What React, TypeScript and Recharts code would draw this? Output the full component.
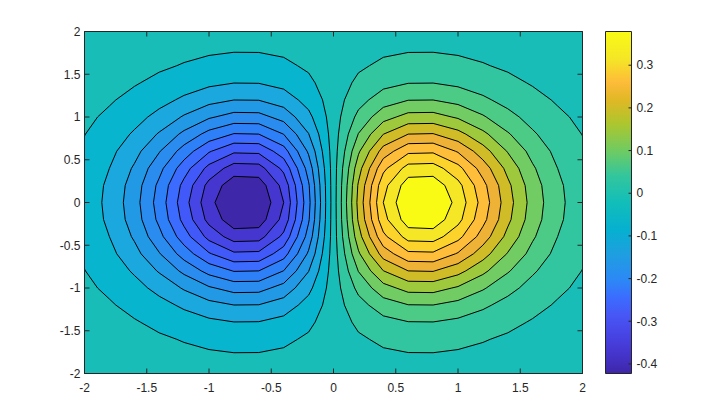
import { Scatter, ScatterChart, XAxis, YAxis } from "recharts";

type Pair = [number, number];

// contour rings: [distance from x=0, height above y=0], upper half only
const ring1: Pair[] = [[0.021, 0], [0.022, 0.2], [0.024, 0.4], [0.03, 0.6], [0.04, 0.8], [0.057, 1], [0.088, 1.2], [0.148, 1.4], [0.2, 1.516], [0.289, 1.6], [0.4, 1.698], [0.6, 1.755], [0.8, 1.757], [1, 1.72], [1.2, 1.637], [1.259, 1.6], [1.4, 1.524], [1.55, 1.4], [1.6, 1.357], [1.748, 1.2], [1.8, 1.129], [1.895, 1], [1.992, 0.8], [2, 0.778]];
const ring2: Pair[] = [[0.063, 0], [0.065, 0.2], [0.073, 0.4], [0.09, 0.6], [0.119, 0.8], [0.17, 1], [0.2, 1.084], [0.283, 1.2], [0.4, 1.326], [0.6, 1.394], [0.8, 1.397], [1, 1.353], [1.2, 1.253], [1.27, 1.2], [1.4, 1.096], [1.492, 1], [1.6, 0.852], [1.636, 0.8], [1.741, 0.6], [1.8, 0.4], [1.847, 0.2], [1.861, 0]];
const ring3: Pair[] = [[0.104, 0], [0.109, 0.2], [0.122, 0.4], [0.149, 0.6], [0.198, 0.8], [0.2, 0.808], [0.308, 1], [0.4, 1.113], [0.6, 1.196], [0.8, 1.199], [1, 1.146], [1.2, 1.024], [1.227, 1], [1.4, 0.824], [1.42, 0.8], [1.546, 0.6], [1.6, 0.4545], [1.623, 0.4], [1.673, 0.2], [1.688, 0]];
const ring4: Pair[] = [[0.146, 0], [0.152, 0.2], [0.171, 0.4], [0.2, 0.558], [0.212, 0.6], [0.299, 0.8], [0.4, 0.945], [0.504, 1], [0.6, 1.05], [0.8, 1.054], [0.95, 1], [1, 0.983], [1.2, 0.842], [1.242, 0.8], [1.391, 0.6], [1.4, 0.582], [1.488, 0.4], [1.539, 0.2], [1.555, 0]];
const ring5: Pair[] = [[0.188, 0], [0.195, 0.2], [0.2, 0.241], [0.226, 0.4], [0.289, 0.6], [0.4, 0.798], [0.403, 0.8], [0.6, 0.921], [0.8, 0.925], [1, 0.846], [1.062, 0.8], [1.2, 0.674], [1.259, 0.6], [1.367, 0.4], [1.4, 0.285], [1.426, 0.2], [1.446, 0]];
const ring6: Pair[] = [[0.238, 0], [0.25, 0.2], [0.29, 0.4], [0.367, 0.6], [0.4, 0.66], [0.6, 0.8], [0.8, 0.806], [0.813, 0.8], [1, 0.715], [1.124, 0.6], [1.2, 0.499], [1.259, 0.4], [1.326, 0.2], [1.346, 0]];
const ring7: Pair[] = [[0.292, 0], [0.306, 0.2], [0.353, 0.4], [0.4, 0.514], [0.484, 0.6], [0.6, 0.688], [0.8, 0.694], [0.979, 0.6], [1, 0.586], [1.149, 0.4], [1.2, 0.281], [1.23, 0.2], [1.254, 0]];
const ring8: Pair[] = [[0.346, 0], [0.362, 0.2], [0.4, 0.345], [0.431, 0.4], [0.6, 0.573], [0.8, 0.58], [1, 0.445], [1.036, 0.4], [1.131, 0.2], [1.161, 0]];
const ring9: Pair[] = [[0.4, 0], [0.436, 0.2], [0.552, 0.4], [0.6, 0.449], [0.8, 0.457], [0.881, 0.4], [1, 0.263], [1.032, 0.2], [1.065, 0]];
const ring10: Pair[] = [[0.503, 0], [0.543, 0.2], [0.6, 0.294], [0.8, 0.306], [0.894, 0.2], [0.952, 0]];
const rings = [ring1, ring2, ring3, ring4, ring5, ring6, ring7, ring8, ring9, ring10];

const leftColors = ["#08B5CF", "#1BA8DE", "#2299E5", "#2A8CEF", "#2E80F9", "#3B6BFF", "#4259FA", "#4646E6", "#4536D0", "#3E27A8"];
const rightColors = ["#31C69F", "#4BCB86", "#71CC64", "#9FC93D", "#CFBC26", "#EEB336", "#FEBE3A", "#FCD32B", "#F5E626", "#F9FB15"];
const backgroundColor = "#19BDB8";

const axisTicks = [-2, -1.5, -1, -0.5, 0, 0.5, 1, 1.5, 2];
const plotBox = [{ x: -2, y: -2 }, { x: 2, y: -2 }, { x: 2, y: 2 }, { x: -2, y: 2 }];

const barDomain = [-0.4224, 0.379];
const barTicks = [-0.4, -0.3, -0.2, -0.1, 0, 0.1, 0.2, 0.3];
const barBox = [{ x: 0, y: -0.4224 }, { x: 1, y: -0.4224 }, { x: 1, y: 0.379 }, { x: 0, y: 0.379 }];
const barStopAt = [0, 0.05, 0.1, 0.17, 0.22, 0.27, 0.35, 0.42, 0.5, 0.58, 0.65, 0.73, 0.8, 0.85, 0.92, 1];
const barStopColors = ["#3E26A8", "#4433C8", "#4740E0", "#4757F5", "#3B6BFF", "#2D87F7", "#1E9FE0", "#06B0D0", "#12BEB9", "#34C69B", "#6ECB63", "#ADC62E", "#E0B825", "#FDBB39", "#F5E626", "#F9FB15"];

const axisColor = "#262626";
const font = { fontFamily: "Liberation Sans", fontSize: 12, fill: axisColor };

// whole outline of one ring on one side of x=0, upper half then the lower half back
const outline = (ring: Pair[], side: number) => [
  ...ring.map(([x, y]) => ({ x: side * x, y })),
  ...[...ring].reverse().map(([x, y]) => ({ x: side * x, y: -y })),
];

const noPoint = () => <g />;

const filledLine = (color: string, stroke: string) => (props: any) => (
  <path
    d={"M" + props.points.map((p: any) => `${p.x},${p.y}`).join("L") + "Z"}
    fill={color}
    stroke={stroke}
    strokeWidth={1}
    strokeLinejoin="round"
  />
);

// axes sit under the series in recharts, so the inward ticks are drawn as a series on top
const tickMark = (dx: number, dy: number) => (props: any) => (
  <line x1={props.cx} y1={props.cy} x2={props.cx + dx} y2={props.cy + dy} stroke={axisColor} strokeWidth={1} />
);

const App = () => {
  return (
    <div style={{ position: "fixed", left: 0, top: 0, width: 720, height: 420, background: "#fff" }}>
      <div style={{ position: "absolute", left: 0, top: 0 }}>
        <ScatterChart width={720} height={420} margin={{ top: 31.5, right: 137.5, bottom: 16.5, left: 54.5 }}>
          <XAxis type="number" dataKey="x" domain={[-2, 2]} ticks={axisTicks} interval={0} height={30} tickSize={-4} tickMargin={14} tickLine={false} stroke={axisColor} tick={font} />
          <YAxis type="number" dataKey="y" domain={[-2, 2]} ticks={axisTicks} interval={0} width={30} tickSize={-4} tickMargin={8} tickLine={false} stroke={axisColor} tick={font} />
          <Scatter data={plotBox} shape={noPoint} line={filledLine(backgroundColor, "none")} isAnimationActive={false} />
          {rings.map((ring, i) => (
            <Scatter key={"l" + i} data={outline(ring, -1)} shape={noPoint} line={filledLine(leftColors[i], "#000")} isAnimationActive={false} />
          ))}
          {rings.map((ring, i) => (
            <Scatter key={"r" + i} data={outline(ring, 1)} shape={noPoint} line={filledLine(rightColors[i], "#000")} isAnimationActive={false} />
          ))}
          <Scatter data={plotBox} shape={noPoint} line={filledLine("none", axisColor)} isAnimationActive={false} />
          <Scatter data={axisTicks.map((x) => ({ x, y: -2 }))} shape={tickMark(0, -5)} isAnimationActive={false} />
          <Scatter data={axisTicks.map((x) => ({ x, y: 2 }))} shape={tickMark(0, 5)} isAnimationActive={false} />
          <Scatter data={axisTicks.map((y) => ({ x: -2, y }))} shape={tickMark(5, 0)} isAnimationActive={false} />
          <Scatter data={axisTicks.map((y) => ({ x: 2, y }))} shape={tickMark(-5, 0)} isAnimationActive={false} />
        </ScatterChart>
      </div>
      <div style={{ position: "absolute", left: 0, top: 0 }}>
        <ScatterChart width={720} height={420} margin={{ top: 31.5, right: 48.5, bottom: 46.5, left: 605.5 }}>
          <defs>
            <linearGradient id="parula" x1="0" y1="1" x2="0" y2="0">
              {barStopAt.map((at, i) => (
                <stop key={at} offset={at} stopColor={barStopColors[i]} />
              ))}
            </linearGradient>
          </defs>
          <XAxis type="number" dataKey="x" domain={[0, 1]} hide />
          <YAxis orientation="right" type="number" dataKey="y" domain={barDomain} ticks={barTicks} interval={0} width={40} tickSize={-3} tickMargin={8} tickLine={false} axisLine={false} tick={{ ...font, textAnchor: "start" }} />
          <Scatter data={barBox} shape={noPoint} line={filledLine("url(#parula)", axisColor)} isAnimationActive={false} />
          <Scatter data={barTicks.map((y) => ({ x: 1, y }))} shape={tickMark(-3, 0)} isAnimationActive={false} />
        </ScatterChart>
      </div>
    </div>
  );
};

export default App;
